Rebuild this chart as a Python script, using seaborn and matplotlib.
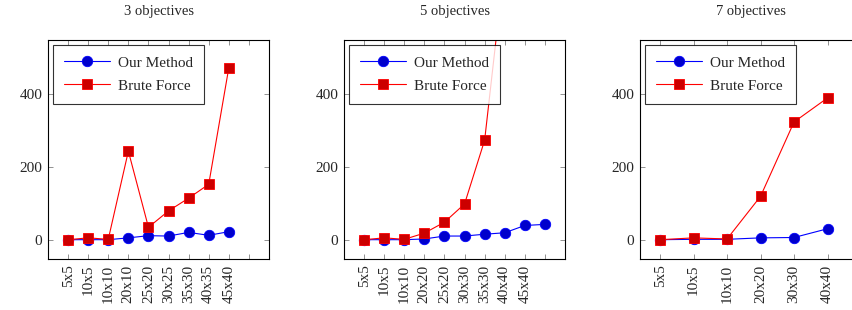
import numpy as np
import pandas as pd
import seaborn as sns
import matplotlib
matplotlib.use("Agg")
import matplotlib.pyplot as plt

# data (runtime per instance size)
labels_3 = ["5x5", "10x5", "10x10", "20x10", "25x20", "30x25", "35x30", "40x35", "45x40"]
ours_3 = [0, 0, 0, 5, 11, 10, 20, 12, 22]
brute_3 = [0, 5, 1, 243, 34, 79, 114, 152, 472]

labels_5 = ["5x5", "10x5", "10x10", "20x20", "25x20", "30x30", "35x30", "40x40", "45x40"]
ours_5 = [0, 0, 0, 2, 10, 10, 15, 19, 39, 42]
brute_5 = [0, 5, 1, 18, 48, 98, 273, 760]

labels_7 = ["5x5", "10x5", "10x10", "20x20", "30x30", "40x40"]
ours_7 = [0, 1, 1, 5, 6, 30]
brute_7 = [0, 5, 2, 119, 323, 389]

titles = ["3 objectives", "5 objectives", "7 objectives"]

sns.set_style("white")
plt.rcParams['font.family'] = ['Liberation Serif', 'DejaVu Serif']
FS = 11

fig = plt.figure(figsize=(8.52, 3.10), dpi=100)

panels = [
    (labels_3, ours_3, brute_3, 10, (-1, 10), 48),
    (labels_5, ours_5, brute_5, 10, (-1, 10), 344),
    (labels_7, ours_7, brute_7, 6, (-0.6, 6.0), 640),
]

for i, (labels, ours, brute, nticks, xlim, left_px) in enumerate(panels):
    ax = fig.add_axes([left_px / 852, 1 - 259 / 310, 221 / 852, 219 / 310])
    d_ours = pd.DataFrame({"x": np.arange(len(ours)), "y": ours})
    d_brute = pd.DataFrame({"x": np.arange(len(brute)), "y": brute})
    sns.lineplot(data=d_ours, x="x", y="y", ax=ax, color=(0, 0, 1), lw=0.8,
                 marker="o", markersize=7.5, markerfacecolor=(0, 0, 0.8),
                 markeredgecolor=(0, 0, 1), markeredgewidth=0.6, label="Our Method")
    sns.lineplot(data=d_brute, x="x", y="y", ax=ax, color=(1, 0, 0), lw=0.8,
                 marker="s", markersize=7.5, markerfacecolor=(0.8, 0, 0),
                 markeredgecolor=(1, 0, 0), markeredgewidth=0.6, label="Brute Force")

    ax.set_xlim(*xlim)
    ax.set_ylim(-53, 548)
    ticks = list(range(nticks))
    ax.set_xticks(ticks)
    ax.set_xticklabels(labels + [""] * (nticks - len(labels)), rotation=90)
    ax.set_yticks([0, 200, 400])
    ax.set_xlabel("")
    ax.set_ylabel("")
    ax.tick_params(direction="in", length=3.5, width=0.6, color="0.5",
                   top=True, right=True, bottom=True, left=True,
                   labelsize=FS, pad=4)
    for s in ax.spines.values():
        s.set_color("black")
        s.set_linewidth(0.8)
    ax.set_title(titles[i], fontsize=FS - 0.5, pad=18)

    leg = ax.legend(loc="upper left", fontsize=FS, frameon=True, fancybox=False,
                    borderaxespad=0.3, handlelength=3.0, borderpad=0.75,
                    labelspacing=0.6, handletextpad=0.5)
    leg.get_frame().set_edgecolor("black")
    leg.get_frame().set_linewidth(0.8)

fig.savefig("out.png", dpi=100)
